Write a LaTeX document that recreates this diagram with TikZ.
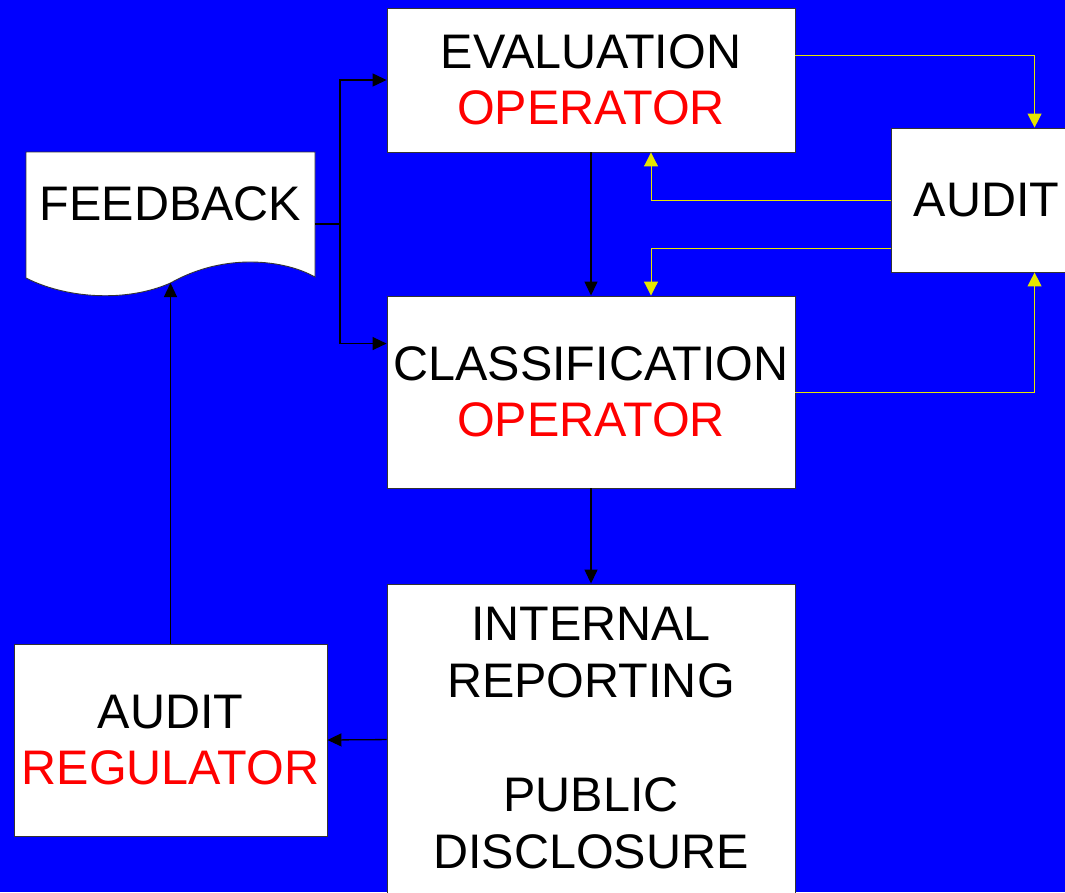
\documentclass[tikz,border=0pt]{standalone}
\usepackage{fontspec}
\setmainfont{Liberation Sans}
\usetikzlibrary{arrows.meta,calc}
\definecolor{bgblue}{RGB}{0,0,255}
\definecolor{opred}{RGB}{255,0,0}
\definecolor{auditline}{RGB}{230,230,0}
\newcommand\diagfont{\fontsize{48.5}{56}\selectfont}
\begin{document}
\begin{tikzpicture}[x=1pt,y=-1pt,
  box/.style={draw=black!80,line width=0.9pt,fill=white,inner sep=0pt,align=center,font=\diagfont},
  blk/.style={black,line width=1.3pt,-{Triangle[length=14pt,width=13pt]}},
  yel/.style={auditline,line width=1pt,-{Triangle[length=14pt,width=14pt]}}]
\useasboundingbox (0,0) rectangle (1065,892);
\clip (0,0) rectangle (1065,892);
\fill[bgblue] (0,0) rectangle (1065,892);

% process boxes
\node[box,minimum width=408pt,minimum height=144pt] (eval) at (591,80)
  {EVALUATION\\\textcolor{opred}{OPERATOR}};
\node[box,minimum width=408pt,minimum height=192pt] (class) at (591,392)
  {CLASSIFICATION\\\textcolor{opred}{OPERATOR}};
\node[box,minimum width=408pt,minimum height=316pt,font={\fontsize{48.5}{57}\selectfont}] (internal) at (591,742)
  {INTERNAL\\REPORTING\\[57pt]PUBLIC\\DISCLOSURE\rule[-9pt]{0pt}{9pt}};
\node[box,minimum width=191pt,minimum height=144pt] (audit) at (986.5,200) {AUDIT};
\node[box,minimum width=313pt,minimum height=192pt] (reg) at (170.5,740)
  {AUDIT\\\textcolor{opred}{REGULATOR}};

% document-shaped feedback box
\node[minimum width=289pt,minimum height=144pt,inner sep=0pt] (feedback) at (170.5,224) {};
\draw[draw=black!80,line width=0.9pt,fill=white]
  (26,152) -- (315,152) -- (315,277)
  .. controls (285,260) and (225,252) .. (170.5,283)
  .. controls (125,303) and (65,298) .. (26,278) -- cycle;
\node[font=\diagfont,inner sep=0pt] (fbtext) at (170.5,204) {FEEDBACK};
\coordinate (fbwave) at (170.5,283);
\coordinate (split) at (340,224);

% black flow connectors
\draw[black,line width=1.3pt] (feedback.east) -- (split);
\draw[blk] (split) |- (eval.west);
\draw[blk] (split) |- ($(class.north west)+(0,48)$);
\draw[blk] (eval.south) -- (class.north);
\draw[blk] (class.south) -- (internal.north);
\draw[blk] ($(internal.north west)+(0,156)$) -- (reg.east);
\draw[blk] (reg.north) -- (fbwave);

% audit loops
\draw[yel] ($(eval.north east)+(0,48)$) -| ($(audit.north west)+(144,0)$);
\draw[yel] (audit.west) -| ($(eval.south)+(60,0)$);
\draw[yel] ($(audit.west)+(0,48)$) -| ($(class.north)+(60,0)$);
\draw[yel] (class.east) -| ($(audit.south west)+(144,0)$);
\end{tikzpicture}
\end{document}
